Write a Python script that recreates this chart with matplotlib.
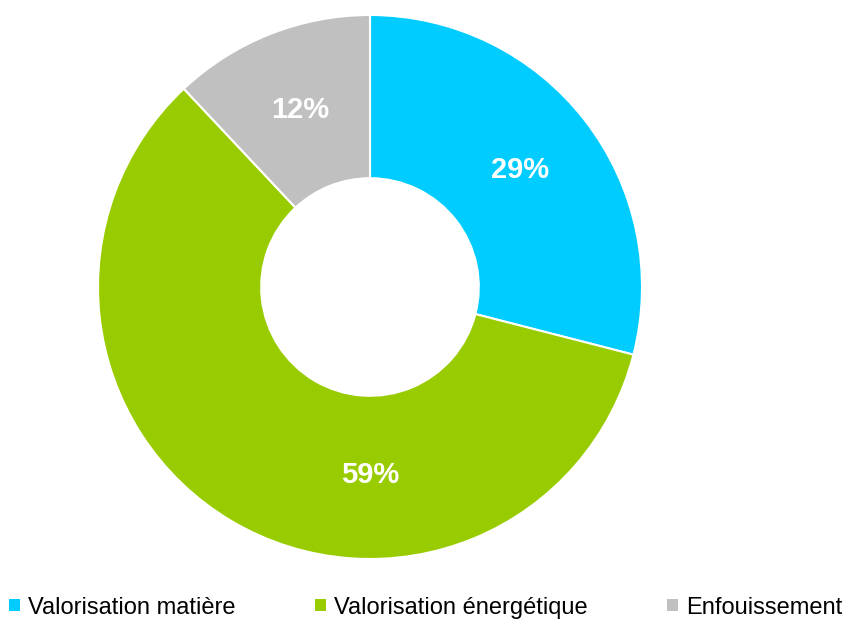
import matplotlib
matplotlib.use("Agg")
from matplotlib import pyplot as plt
from matplotlib.patches import Patch

labels = ["Valorisation matière", "Valorisation énergétique", "Enfouissement"]
values = [29, 59, 12]
colors = ["#00CCFF", "#99CC00", "#C0C0C0"]

plt.rcParams["font.family"] = ["Liberation Sans", "DejaVu Sans"]

W, H = 845, 620
fig = plt.figure(figsize=(W / 100, H / 100), dpi=100)

# donut centred at (370, 287) px, outer radius ~272 px
cx, cy, r = 370, 287, 272
ax = fig.add_axes([(cx - r) / W, (H - cy - r) / H, 2 * r / W, 2 * r / H])

wedges, texts, autotexts = ax.pie(
    values,
    colors=colors,
    startangle=90,
    counterclock=False,
    radius=1,
    autopct=lambda p: f"{p:.0f}%",
    pctdistance=0.7,
    wedgeprops=dict(width=0.6, edgecolor="white", linewidth=1.5),
    textprops=dict(color="white", fontsize=21, fontweight="bold"),
)
# the big slice's label sits straight below the hole
autotexts[1].set_position((0, -0.69))
ax.set_xlim(-1, 1)
ax.set_ylim(-1, 1)
ax.set_aspect("equal")
ax.axis("off")

handles = [Patch(facecolor=c, edgecolor="none") for c in colors]
fig.legend(
    handles,
    labels,
    ncol=3,
    loc="lower left",
    bbox_to_anchor=(9 / W, 0.002),
    frameon=False,
    fontsize=17,
    handlelength=0.47,
    handleheight=0.42,
    handletextpad=0.35,
    columnspacing=3.35,
    borderaxespad=0,
    borderpad=0,
)

fig.savefig("out.png", dpi=100)
